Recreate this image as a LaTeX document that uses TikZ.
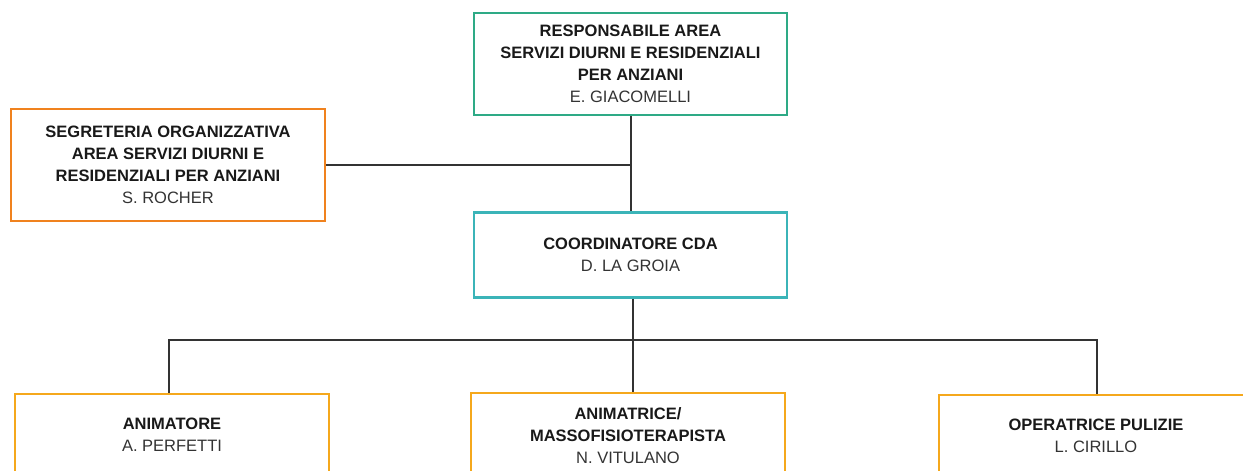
\documentclass[tikz,border=0pt]{standalone}
\usepackage{fontspec}
\setmainfont{Liberation Sans}
\definecolor{cgreen}{HTML}{2EAA86}
\definecolor{corange}{HTML}{F0821E}
\definecolor{cteal}{HTML}{3BB4B8}
\definecolor{cyellow}{HTML}{F5A81C}
\definecolor{cline}{HTML}{333333}
\definecolor{cname}{HTML}{333333}
\newcommand{\rl}[1]{{\bfseries\color{black!90}#1}}
\newcommand{\nm}[1]{{\color{cname}#1}}
\begin{document}
\begin{tikzpicture}[x=1pt,y=-1pt,
  box/.style={draw, line width=2.4pt, fill=white, align=center, inner sep=0pt,
    font=\fontsize{16.5}{21.8}\selectfont},
  conn/.style={draw=cline, line width=1.3pt}]
\useasboundingbox (0,0) rectangle (1243,471);
\clip (0,0) rectangle (1243,471);
\fill[white] (0,0) rectangle (1243,471);
\node[box, draw=cgreen, minimum width=313pt, minimum height=102pt] (resp) at (630.5,64)
  {\rl{RESPONSABILE AREA}\\\rl{SERVIZI DIURNI E RESIDENZIALI}\\\rl{PER ANZIANI}\\\nm{E. GIACOMELLI}};
\node[box, draw=corange, minimum width=314pt, minimum height=112pt] (segr) at (168,165)
  {\rl{SEGRETERIA ORGANIZZATIVA}\\\rl{AREA SERVIZI DIURNI E}\\\rl{RESIDENZIALI PER ANZIANI}\\\nm{S. ROCHER}};
\node[box, draw=cteal, minimum width=313pt, minimum height=85pt] (coord) at (630.5,255)
  {\rl{COORDINATORE CDA}\\\nm{D. LA GROIA}};
\node[box, draw=cyellow, minimum width=314pt, minimum height=82pt] (anim) at (172,435)
  {\rl{ANIMATORE}\\\nm{A. PERFETTI}};
\node[box, draw=cyellow, minimum width=314pt, minimum height=85pt] (mass) at (628,435.5)
  {\rl{ANIMATRICE/}\\\rl{MASSOFISIOTERAPISTA}\\\nm{N. VITULANO}};
\node[box, draw=cyellow, minimum width=314pt, minimum height=82pt] (oper) at (1096,436)
  {\rl{OPERATRICE PULIZIE}\\\nm{L. CIRILLO}};
\coordinate (jt) at (631,165);
\coordinate (jb) at (633,340);
\draw[conn] (resp.south -| jt) -- (coord.north -| jt);
\draw[conn] (segr.east |- jt) -- (jt);
\draw[conn] (coord.south -| jb) -- (jb);
\draw[conn] (anim.north -| 169,0) |- (jb) -| (oper.north -| 1097,0);
\draw[conn] (jb) -- (mass.north -| jb);
\end{tikzpicture}
\end{document}
